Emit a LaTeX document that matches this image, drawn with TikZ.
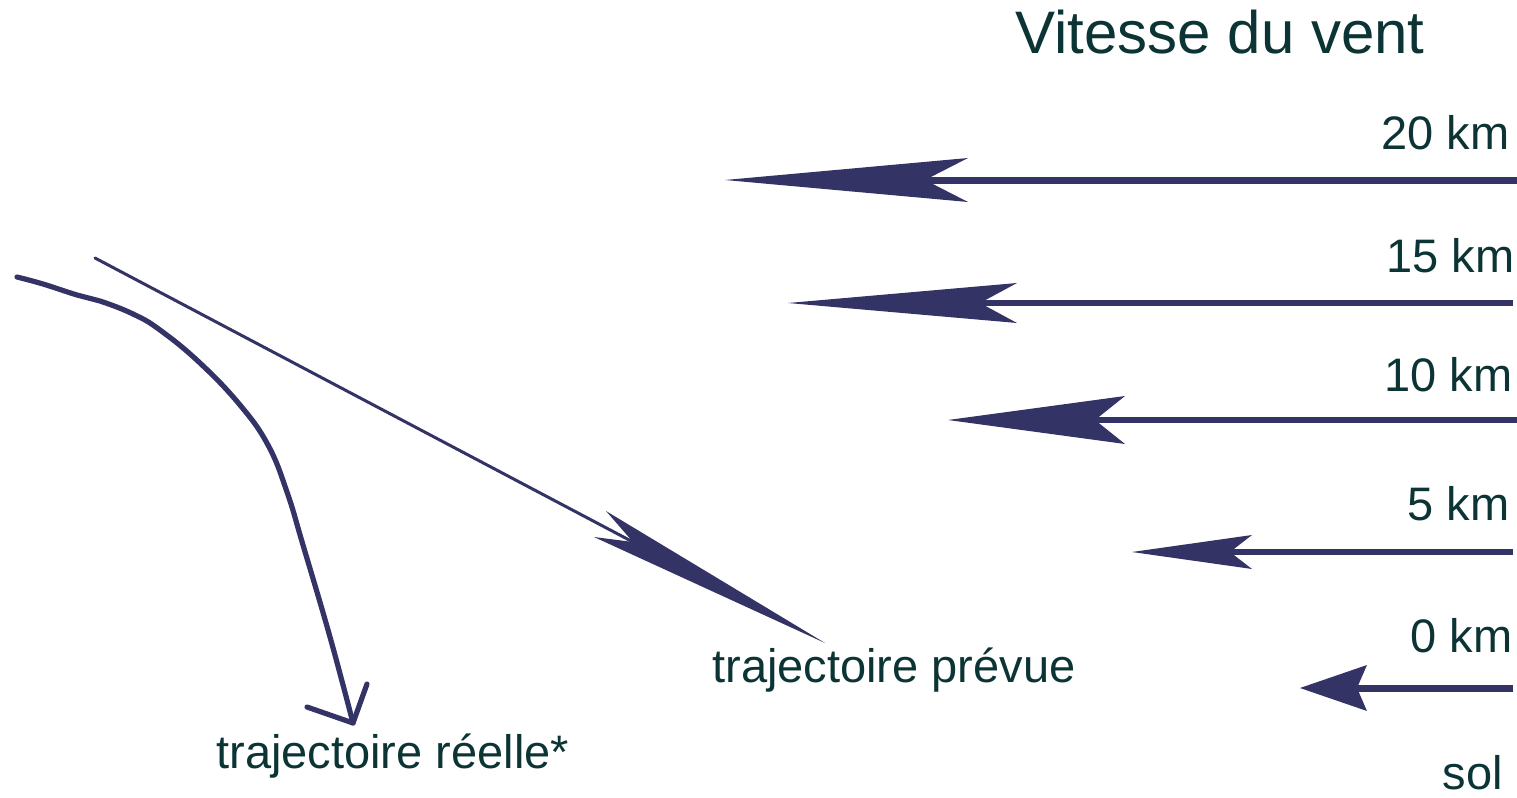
\documentclass[tikz,border=0pt]{standalone}
\usepackage{fontspec}
\newfontfamily\labelfont{Liberation Sans}
\usetikzlibrary{calc}
\definecolor{windnavy}{RGB}{51,51,102}
\definecolor{labelink}{RGB}{12,52,52}

% one wind arrow: name, height, tip x, notch x, barb x, barb half width, shaft width, shaft end x
\newcommand\windarrow[8]{%
  \coordinate (#1-tip) at (#3,#2);
  \coordinate (#1-notch) at (#4,#2);
  \coordinate (#1-end) at (#8,#2);
  \draw[windshaft, line width=#7] (#1-end) -- (#1-notch);
  \fill[windnavy] (#1-tip) -- (#5,#2-#6) -- (#1-notch) -- (#5,#2+#6) -- cycle;
}

\begin{document}
\begin{tikzpicture}[x=0.5pt, y=-0.5pt,
  windshaft/.style={draw=windnavy, line cap=butt},
  kmlabel/.style={font=\labelfont\fontsize{23.5}{28}\selectfont, text=labelink, inner sep=0pt, anchor=base east},
  pathlabel/.style={font=\labelfont\fontsize{23.5}{28}\selectfont, text=labelink, inner sep=0pt, anchor=base west},
  trackline/.style={draw=windnavy, line cap=round, line join=round}]
\useasboundingbox (0,0) rectangle (1517,798);

% title
\node[font=\labelfont\fontsize{30}{36}\selectfont, text=labelink, inner sep=0pt, anchor=base west] (title) at (1015,53) {Vitesse du vent};

% wind speed at each altitude
\windarrow{w20}{180}{725}{925}{968}{22}{3.5pt}{1517}
\windarrow{w15}{303}{788}{980}{1017}{20}{2.6pt}{1513}
\windarrow{w10}{420}{948}{1095}{1125}{24}{3pt}{1517}
\windarrow{w5}{552}{1132}{1230}{1252}{17}{2.6pt}{1513}
\windarrow{w0}{688}{1300}{1357}{1367}{23}{3.5pt}{1513}

% altitude labels
\node[kmlabel] (k20) at (1510,149) {20 km};
\node[kmlabel] (k15) at (1515,272) {15 km};
\node[kmlabel] (k10) at (1513,391) {10 km};
\node[kmlabel] (k5)  at (1510,520) {5 km};
\node[kmlabel] (k0)  at (1513,652) {0 km};
\node[kmlabel] (sol) at (1503,789) {sol};

% planned path: straight line with a long head
\coordinate (pv-start) at (95,258);
\coordinate (pv-tip) at (825,643);
\coordinate (pv-notch) at (633,542);
\coordinate (pv-barbA) at (606,511);
\coordinate (pv-barbB) at (594,537);
\draw[trackline, line width=1.5pt] (pv-start) -- (pv-notch);
\fill[windnavy] (pv-tip) -- (pv-barbA) -- (pv-notch) -- (pv-barbB) -- cycle;
\node[pathlabel] (prevue) at (712,682) {trajectoire prévue};

% actual path: hand-drawn curve bending down
\coordinate (re-start) at (17,277);
\coordinate (re-tip) at (353,723);
\coordinate (re-barbA) at (307,707);
\coordinate (re-barbB) at (367,684);
\draw[trackline, line width=2.6pt] plot[smooth, tension=0.7] coordinates {
  (17,277) (43,284) (77,295) (100,301) (133,314) (160,330)
  (200,363) (240,405) (268,445) (287,492) (303,545)
  (330,637) (353,723)};
\draw[trackline, line width=2.6pt] (re-barbA) -- (re-tip) -- (re-barbB);
\node[pathlabel] (reelle) at (216,768) {trajectoire réelle*};
\end{tikzpicture}
\end{document}
